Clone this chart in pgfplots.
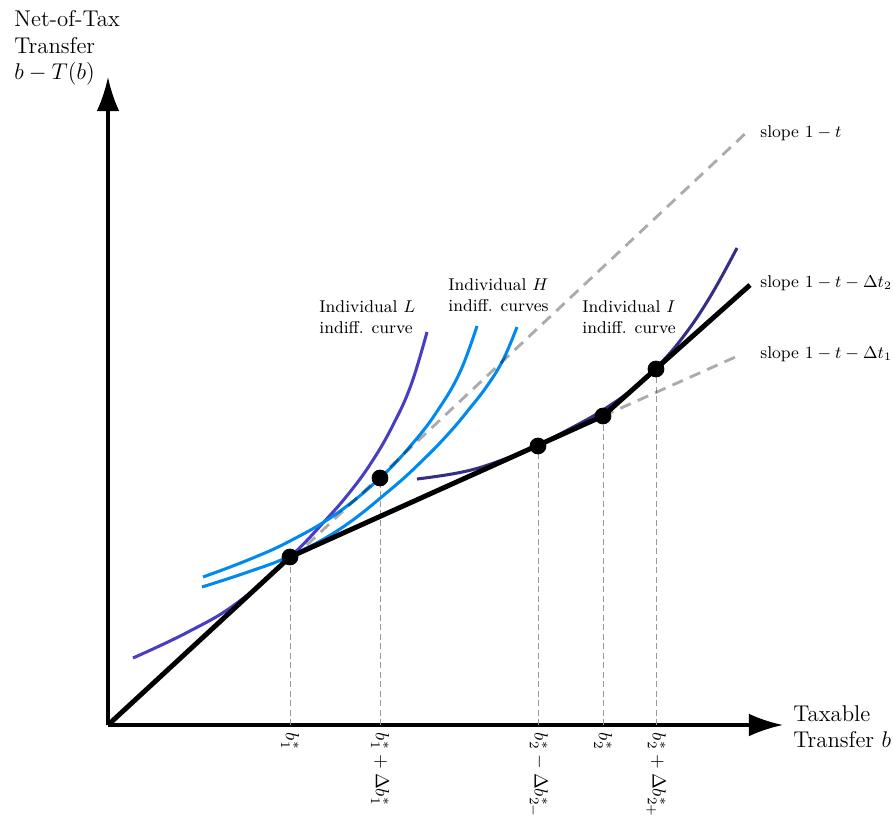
\documentclass[border=0pt]{standalone}
\usepackage{pgfplots}
\pgfplotsset{compat=1.18}
\usetikzlibrary{arrows.meta}
\definecolor{Lcol}{RGB}{72,62,196}
\definecolor{Hcol}{RGB}{0,138,240}
\definecolor{Icol}{RGB}{52,46,134}
\begin{document}
\begin{tikzpicture}
\begin{axis}[
  x=0.526316pt, y=0.526316pt,
  xmin=0, xmax=675, ymin=0, ymax=648,
  axis lines=left,
  axis line style={line width=1.6pt, -{Latex[length=18pt,width=12pt]}},
  clip=false,
  ytick=\empty,
  xtick={182,272,430,495,548},
  xticklabels={$b_1^*$, $b_1^*+\Delta b_1^*$, $b_2^*-\Delta b_{2-}^*$, $b_2^*$, $b_2^*+\Delta b_{2+}^*$},
  xticklabel style={rotate=-90, anchor=west, inner sep=4pt, font=\fontsize{10.4}{12}\selectfont},
  major tick length=0pt,
  tick style={draw=none},
]
% vertical guides
\addplot[ycomb, black!40, line width=0.5pt, dash pattern=on 3pt off 2pt, mark=none]
  coordinates {(182,168)(272,247)(430,279)(495,309)(548,356)};
% L curve
\addplot[Lcol, line width=1.6pt, smooth, tension=0.7] coordinates {
(25,67)(80,93)(129,122)(182,168)(215,202)(242,233)(265,265)(285,300)(303,340)(319,393)};
% H curves
\addplot[Hcol, line width=1.6pt, smooth, tension=0.7] coordinates {
(95,148)(140,165)(182,184)(228,211)(272,247)(305,282)(330,315)(352,353)(369,399)};
\addplot[Hcol, line width=1.6pt, smooth, tension=0.7] coordinates {
(94,138)(140,153)(182,169)(232,196)(282,235)(315,265)(342,293)(362,317)(379,339)(395,365)(409,398)};
% I curve
\addplot[Icol, line width=1.6pt, smooth, tension=0.7] coordinates {
(309,246)(359,254)(402,268)(430,280)(469,300)(495,315)(525,336)(549,358)(575,388)(602,428)(629,477)};
% slope lines
\addplot[black, opacity=0.33, line width=1.5pt, dash pattern=on 6pt off 4pt] coordinates {(185,167)(640,594)};
\addplot[black, opacity=0.33, line width=1.5pt, dash pattern=on 6pt off 4pt] coordinates {(495,309)(632,370)};
% budget line
\addplot[black, line width=2.6pt, line join=round] coordinates {(0,0)(182,168)(495,309)(642,440)};
% points
\addplot[only marks, mark=*, mark size=4.2pt, black] coordinates {(182,168)(272,247)(430,279)(495,309)(548,356)};
% labels
\node[anchor=north west, align=left, inner sep=0pt, font=\large] at (axis cs:-94,715) {Net-of-Tax\\Transfer\\$b-T(b)$};
\node[anchor=west, align=left, inner sep=0pt, font=\large] at (axis cs:685,-1.5) {Taxable\\Transfer $b$};
\node[anchor=west, inner sep=0pt, font=\small] at (axis cs:652,592) {slope $1-t$};
\node[anchor=west, inner sep=0pt, font=\small] at (axis cs:652,442) {slope $1-t-\Delta t_2$};
\node[anchor=west, inner sep=0pt, font=\small] at (axis cs:652,371) {slope $1-t-\Delta t_1$};
\node[anchor=west, align=left, inner sep=0pt, font=\small] at (axis cs:211,407.5) {Individual $L$\\indiff. curve};
\node[anchor=west, align=left, inner sep=0pt, font=\small] at (axis cs:340,430) {Individual $H$\\indiff. curves};
\node[anchor=west, align=left, inner sep=0pt, font=\small] at (axis cs:474,407.5) {Individual $I$\\indiff. curve};
\coordinate (bbSW) at (axis cs:-108,-94);
\coordinate (bbNE) at (axis cs:785,725);
\end{axis}
\pgfresetboundingbox
\path (bbSW) rectangle (bbNE);
\end{tikzpicture}
\end{document}
